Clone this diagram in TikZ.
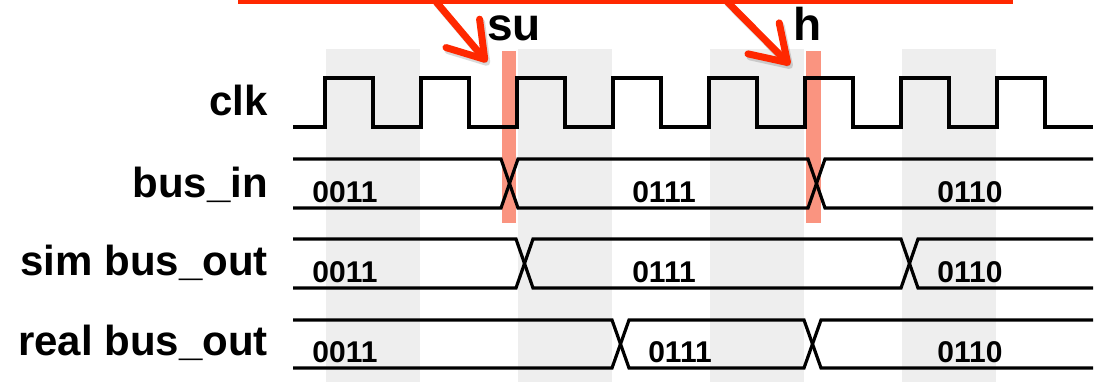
\documentclass[tikz,border=0pt]{standalone}
\usepackage{fontspec}
\setmainfont{Liberation Sans}
\usetikzlibrary{arrows.meta}

\definecolor{bandgray}{RGB}{238,238,238}
\definecolor{marker}{RGB}{250,148,128}
\definecolor{callred}{RGB}{255,40,0}

\tikzset{
  band/.style={fill=bandgray, draw=none},
  windowbar/.style={fill=marker, draw=none},
  wave/.style={draw=black, line width=3.2pt, line join=miter},
  siglabel/.style={inner sep=0pt, anchor=base east, font=\bfseries\fontsize{42}{48}\selectfont},
  busval/.style={inner sep=0pt, anchor=base, font=\bfseries\fontsize{30}{36}\selectfont},
  marklabel/.style={inner sep=0pt, anchor=base west, font=\bfseries\fontsize{46}{52}\selectfont},
  callout/.style={draw=callred, line width=7pt, line cap=round,
    -{Straight Barb[length=34pt, width=44pt, line cap=round, line join=round]}},
  calloutshadow/.style={draw=black, opacity=0.15, line width=7pt, line cap=round,
    -{Straight Barb[length=34pt, width=44pt, line cap=round, line join=round]}}
}

% two-state bus trace with a crossing at x1 and at x2
\newcommand\busrow[4]{%
  \draw[wave] (293,#1) -- (#3,#1) -- ({#3+17},#2) -- (#4,#2) -- ({#4+17},#1) -- (1093,#1);
  \draw[wave] (293,#2) -- (#3,#2) -- ({#3+17},#1) -- (#4,#1) -- ({#4+17},#2) -- (1093,#2);
}

\begin{document}
\begin{tikzpicture}[x=1pt, y=-1pt]
\useasboundingbox (0,0) rectangle (1102,382);

% shaded clock-period bands
\foreach \bx in {326,518,710,902}
  \fill[band] (\bx,49) rectangle ({\bx+94},382);

% setup and hold windows
\fill[windowbar] (502,51) rectangle (516,223);
\fill[windowbar] (806,51) rectangle (821,223);

% clock
\draw[wave] (293,127) -- (325,127)
  \foreach \k in {0,...,7} {
    -- ({325+96*\k},78) -- ({373+96*\k},78) -- ({373+96*\k},127) -- ({421+96*\k},127)
  };

% bus traces
\busrow{159}{208}{501}{808}
\busrow{239}{288}{516}{901}
\busrow{320}{368}{612}{804}

% signal names
\node[siglabel] (lclk) at (268,116) {clk};
\node[siglabel] (lin)  at (268,197) {bus\_in};
\node[siglabel] (lsim) at (268,275) {sim bus\_out};
\node[siglabel] (lreal) at (268,355) {real bus\_out};

% bus values
\node[busval] (in0)   at (345,202) {0011};
\node[busval] (in1)   at (664,202) {0111};
\node[busval] (in2)   at (970,202) {0110};
\node[busval] (sim0)  at (345,282) {0011};
\node[busval] (sim1)  at (664,282) {0111};
\node[busval] (sim2)  at (970,282) {0110};
\node[busval] (real0) at (345,362) {0011};
\node[busval] (real1) at (680,362) {0111};
\node[busval] (real2) at (970,362) {0110};

% window labels
\node[marklabel] (su) at (487,41) {su};
\node[marklabel] (h)  at (793,41) {h};

% callout bar and pointers
\coordinate (barL) at (238,0.5);
\coordinate (barR) at (1013,0.5);
\coordinate (srcsu) at (435,0.5);
\coordinate (srch)  at (726,0.5);
\coordinate (tipsu) at (487,62);
\coordinate (tiph)  at (790,65);
\coordinate (shsu) at (437,3.5);
\coordinate (shh)  at (728,3.5);
\coordinate (tshsu) at (489,65);
\coordinate (tshh)  at (792,68);

\draw[calloutshadow] (shsu) -- (tshsu);
\draw[calloutshadow] (shh) -- (tshh);
\draw[callred, line width=8pt] (barL) -- (barR);
\draw[callout] (srcsu) -- (tipsu);
\draw[callout] (srch) -- (tiph);
\end{tikzpicture}
\end{document}
